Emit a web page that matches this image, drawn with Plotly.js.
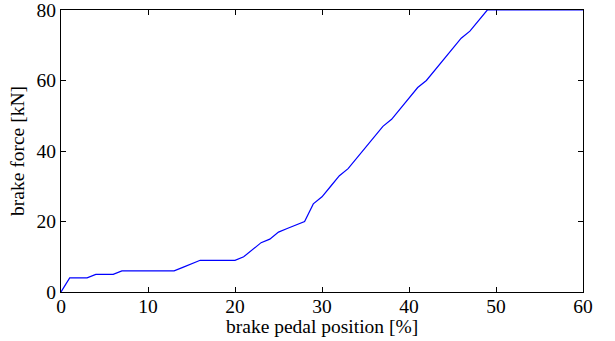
<!DOCTYPE html>
<html>
<head>
<meta charset="utf-8">
<script src="https://cdn.plot.ly/plotly-3.0.1.min.js"></script>
<style>html,body{margin:0;padding:0;background:#fff;}#chart{width:615px;height:341px;}</style>
</head>
<body>
<div id="chart"></div>
<script>
const pedalPosition = [0,1,2,3,4,5,6,7,8,9,10,11,12,13,14,15,16,17,18,19,20,21,22,23,24,25,26,27,28,29,30,31,32,33,34,35,36,37,38,39,40,41,42,43,44,45,46,47,48,49,50,51,52,53,54,55,56,57,58,59,60];
const brakeForce = [0,4,4,4,5,5,5,6,6,6,6,6,6,6,7,8,9,9,9,9,9,10,12,14,15,17,18,19,20,25,27,30,33,35,38,41,44,47,49,52,55,58,60,63,66,69,72,74,77,80,80,80,80,80,80,80,80,80,80,80,80];
const xTicks = [0,10,20,30,40,50,60];
const yTicks = [0,20,40,60,80];

const font = {family: 'Liberation Serif', size: 19.5, color: '#000'};
const axisCommon = {
  showgrid: false, zeroline: false, showline: true, linecolor: '#000', linewidth: 1,
  mirror: 'allticks', ticks: 'inside', ticklen: 5, tickcolor: '#000', tickwidth: 1,
  tickfont: font, tickmode: 'array', ticklabeloverflow: 'allow', layer: 'below traces'
};
Plotly.newPlot('chart', [{
  x: pedalPosition, y: brakeForce, type: 'scatter', mode: 'lines',
  line: {color: '#0000ff', width: 1.2}, cliponaxis: false
}], {
  width: 615, height: 341,
  margin: {l: 61, r: 32, t: 10, b: 49},
  paper_bgcolor: '#fff', plot_bgcolor: '#fff',
  showlegend: false,
  font: font,
  xaxis: Object.assign({}, axisCommon, {
    range: [0, 60], tickvals: xTicks, ticktext: xTicks.map(String),
    ticklabelstandoff: -3
  }),
  yaxis: Object.assign({}, axisCommon, {
    range: [0, 80], tickvals: yTicks, ticktext: yTicks.map(String),
    title: {text: 'brake force [kN]', font: font, standoff: 6}
  }),
  annotations: [{
    text: 'brake pedal position [%]', font: font, showarrow: false,
    xref: 'paper', yref: 'paper', x: 0.5, y: 0, xanchor: 'center', yanchor: 'top',
    yshift: -22
  }]
}, {displayModeBar: false, staticPlot: true});
</script>
</body>
</html>
